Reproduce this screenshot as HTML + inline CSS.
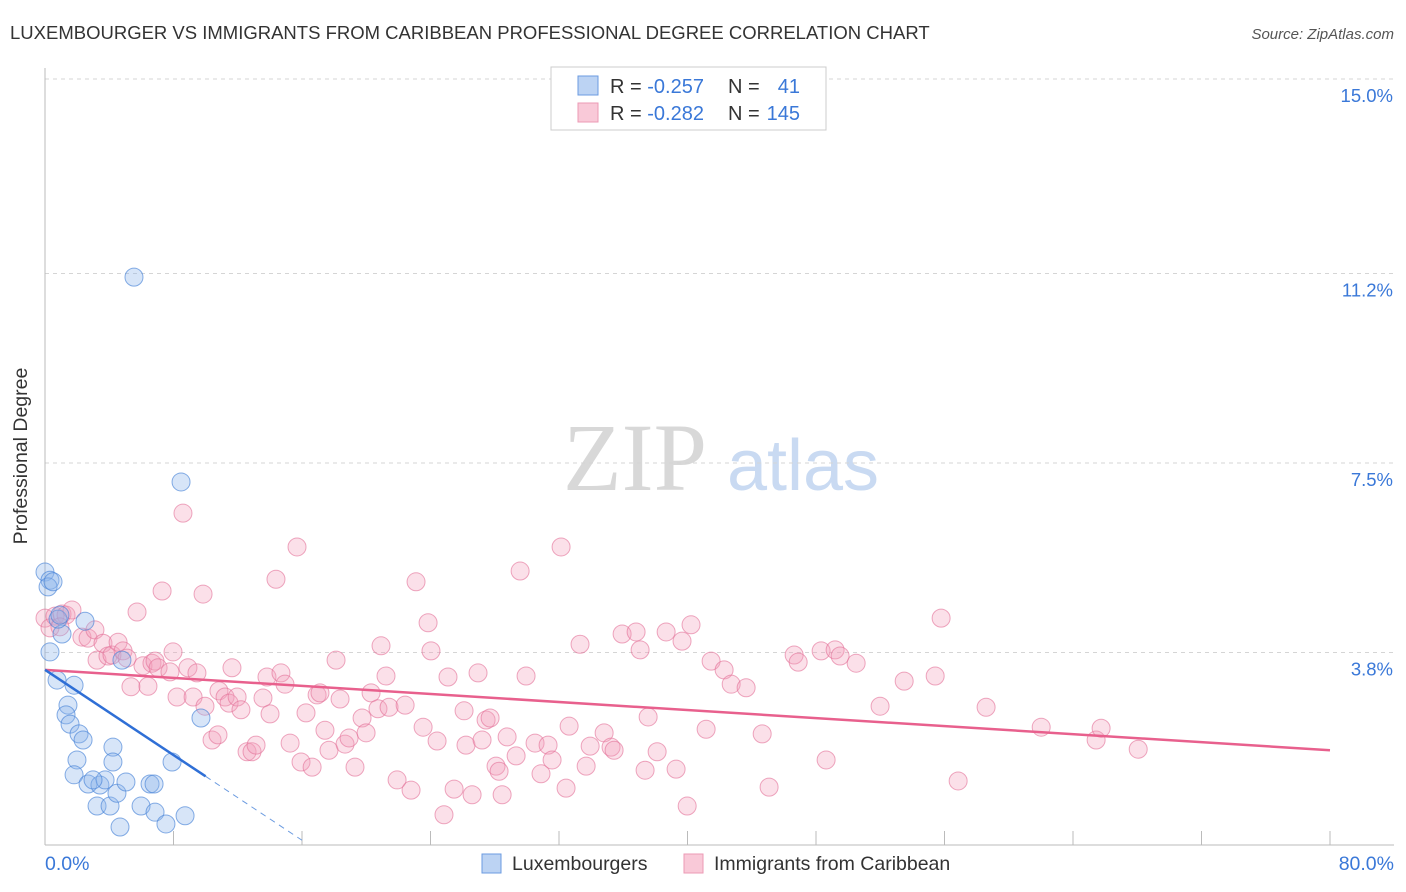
<!DOCTYPE html>
<html><head><meta charset="utf-8"><style>
body{margin:0;background:#fff;font-family:"Liberation Sans",sans-serif;}
svg{display:block}
</style></head><body>
<svg id="chart" width="1406" height="892" xmlns="http://www.w3.org/2000/svg">
<text x="10" y="39" font-size="18.5" fill="#333">LUXEMBOURGER VS IMMIGRANTS FROM CARIBBEAN PROFESSIONAL DEGREE CORRELATION CHART</text>
<text x="1394" y="39" font-size="15" fill="#555" font-style="italic" text-anchor="end">Source: ZipAtlas.com</text>
<text x="635" y="490" font-size="96" fill="#d8d8d8" font-family="Liberation Serif,serif" text-anchor="middle">ZIP</text>
<text x="803" y="490" font-size="72" fill="#c9daf2" text-anchor="middle">atlas</text>
<g id="grid"></g>
<g id="axes"></g>
<g id="pinkPts"></g>
<g id="bluePts"></g>
<g id="trends"></g>
<text x="27" y="456" font-size="19.5" fill="#333" text-anchor="middle" transform="rotate(-90 27 456)">Professional Degree</text>
<text x="45" y="870" font-size="19.5" fill="#3a78d8">0.0%</text>
<text x="1394" y="870" font-size="19.5" fill="#3a78d8" text-anchor="end">80.0%</text>
<g>
<rect x="551" y="67" width="275" height="63" fill="#fff" stroke="#ccc"/>
<rect x="578" y="76" width="20" height="19" fill="#bcd3f3" stroke="#6b9be0"/>
<rect x="578" y="103" width="20" height="19" fill="#f9c9d8" stroke="#ec9ab5"/>
<text x="610" y="93" font-size="20" fill="#333">R = <tspan fill="#3a78d8">-0.257</tspan></text>
<text x="728" y="93" font-size="20" fill="#333">N =</text><text x="800" y="93" font-size="20" fill="#3a78d8" text-anchor="end">41</text>
<text x="610" y="120" font-size="20" fill="#333">R = <tspan fill="#3a78d8">-0.282</tspan></text>
<text x="728" y="120" font-size="20" fill="#333">N =</text><text x="800" y="120" font-size="20" fill="#3a78d8" text-anchor="end">145</text>
</g>
<g>
<rect x="482" y="854" width="19" height="19" fill="#bcd3f3" stroke="#6b9be0"/>
<text x="512" y="870" font-size="19.5" fill="#333">Luxembourgers</text>
<rect x="684" y="854" width="19" height="19" fill="#f9c9d8" stroke="#ec9ab5"/>
<text x="714" y="870" font-size="19.5" fill="#333">Immigrants from Caribbean</text>
</g>
</svg>
<script>
const yTicks=[3.8,7.5,11.2,15.0];
const yTickLabels=["3.8%","7.5%","11.2%","15.0%"];
const xTicks=[0,8,16,24,32,40,48,56,64,72,80];
const blueX=[0,0.31,0.19,0.5,0.31,0.75,1.06,0.81,1.81,1.43,1.31,1.56,2.12,2.37,2.49,1.99,4.23,4.23,1.81,2.68,3.24,3.42,3.74,4.05,4.48,5.04,4.67,5.98,6.54,6.79,6.85,7.53,8.72,7.91,9.71,4.79,5.54,8.47,0.93,2.99];
const blueY=[5.37,5.21,5.08,5.18,3.81,3.26,4.16,4.45,3.16,2.77,2.58,2.40,2.21,2.09,4.41,1.70,1.95,1.66,1.41,1.23,0.80,1.21,1.31,0.80,1.05,1.27,0.39,0.80,1.23,1.23,0.68,0.45,0.61,1.66,2.52,3.65,11.13,7.13,4.53,1.31];
const pinkX=[0,0.31,0.62,1.06,1.31,1.68,0.93,2.30,2.68,3.11,3.24,3.61,3.92,4.17,4.55,4.86,5.11,5.35,5.73,6.10,6.41,6.66,6.85,7.29,7.04,7.78,7.97,8.22,8.59,8.90,9.22,9.46,9.84,9.96,10.40,10.77,10.83,11.21,11.46,11.64,11.96,12.20,12.58,12.89,13.14,13.57,13.82,14.01,14.38,14.69,14.94,15.26,15.69,15.94,16.25,16.63,16.94,17.12,17.43,17.68,18.12,18.37,18.68,18.93,19.30,19.74,19.99,20.30,20.73,20.92,21.23,21.42,21.92,22.42,22.79,23.10,23.54,23.85,24.03,24.41,24.84,25.09,25.47,26.09,26.21,26.59,26.96,27.21,27.46,27.71,28.08,28.27,28.46,28.77,29.33,29.58,29.95,30.51,30.88,31.32,31.57,32.13,32.44,32.63,33.31,33.69,33.94,34.81,35.24,35.43,35.93,36.80,37.05,37.55,38.11,37.36,38.67,39.29,39.66,39.98,40.22,41.16,41.47,42.28,42.72,43.65,44.65,45.08,46.64,46.89,48.32,48.63,49.19,49.50,50.50,51.99,53.49,55.42,55.79,56.85,58.59,62.02,65.44,65.75,68.06];
const pinkY=[4.47,4.28,4.51,4.55,4.53,4.63,4.30,4.10,4.08,4.24,3.65,3.98,3.73,3.75,4.00,3.83,3.69,3.13,4.59,3.54,3.14,3.59,3.63,5.00,3.50,3.42,3.81,2.93,6.52,3.50,2.93,3.40,4.94,2.75,2.09,2.19,3.05,2.93,2.81,3.50,2.93,2.68,1.86,1.86,1.99,2.91,3.32,2.60,5.23,3.40,3.18,2.03,5.86,1.66,2.62,1.56,2.97,3.01,2.28,1.89,3.65,2.89,2.01,2.13,1.56,2.52,2.23,3.01,2.70,3.93,3.34,2.73,1.31,2.77,1.11,5.18,2.34,4.38,3.83,2.07,0.63,3.32,1.13,2.66,1.99,1.02,3.40,2.09,2.48,2.52,1.58,1.48,1.02,2.15,1.78,5.39,3.34,2.03,1.43,1.99,1.70,5.86,1.15,2.36,3.96,1.58,1.97,2.23,1.95,1.89,4.16,4.20,3.85,2.54,1.86,1.50,4.20,1.52,4.02,0.80,4.34,2.30,3.63,3.46,3.18,3.11,2.21,1.17,3.75,3.61,3.83,1.70,3.85,3.73,3.59,2.75,3.24,3.34,4.47,1.29,2.73,2.34,2.09,2.32,1.91];
const pinkTrend=[3.46,1.89];   // y at x=0 and x=80
const blueTrend=[3.46,-0.208]; // intercept, slope
const NS="http://www.w3.org/2000/svg";
const X0=45,X1=1330,Y0=847,PXY=51.2;
function sx(v){return X0+(v/80)*(X1-X0);}
function sy(v){return Y0-v*PXY;}
function mk(tag,attrs,parent){const e=document.createElementNS(NS,tag);for(const k in attrs)e.setAttribute(k,attrs[k]);parent.appendChild(e);return e;}
const grid=document.getElementById('grid'),axes=document.getElementById('axes');
yTicks.forEach((t,i)=>{
  const l=mk('line',{x1:X0,x2:1394,y1:sy(t),y2:sy(t),stroke:'#d5d5d5','stroke-dasharray':'4,4'},grid);
  
  
  const tx=mk('text',{x:1393,y:sy(t)+23,'font-size':18.5,fill:'#3a78d8','text-anchor':'end'},grid);
  tx.textContent=yTickLabels[i];
  
  
});
const ya=mk('line',{x1:X0,x2:X0,y1:68,y2:845,stroke:'#bbb'},axes);


const xa=mk('line',{x1:X0,x2:1394,y1:845,y2:845,stroke:'#bbb'},axes);


xTicks.forEach(t=>{
  const l=mk('line',{x1:sx(t),x2:sx(t),y1:831,y2:845,stroke:'#bbb'},axes);
  
  
});
const pg=document.getElementById('pinkPts');
pinkX.forEach((x,i)=>{
  const c=mk('circle',{cx:sx(x),cy:sy(pinkY[i]),r:9,fill:'rgba(243,160,188,0.32)',stroke:'rgba(226,110,150,0.6)','stroke-width':1},pg);
  
  
});
const bg=document.getElementById('bluePts');
blueX.forEach((x,i)=>{
  const c=mk('circle',{cx:sx(x),cy:sy(blueY[i]),r:9,fill:'rgba(140,180,236,0.35)',stroke:'rgba(70,130,215,0.65)','stroke-width':1},bg);
  
  
});
const tg=document.getElementById('trends');
const pt=mk('line',{x1:sx(0),y1:sy(pinkTrend[0]),x2:sx(80),y2:sy(pinkTrend[1]),stroke:'#e8608d','stroke-width':2.5},tg);


const bt=mk('line',{x1:sx(0),y1:sy(blueTrend[0]),x2:sx(10),y2:sy(blueTrend[0]+blueTrend[1]*10),stroke:'#2f6fd6','stroke-width':2.5},tg);


const bd=mk('line',{x1:sx(10),y1:sy(blueTrend[0]+blueTrend[1]*10),x2:sx(16),y2:sy(blueTrend[0]+blueTrend[1]*16),stroke:'#6b9be0','stroke-width':1,'stroke-dasharray':'6,5'},tg);


</script>
</body></html>
